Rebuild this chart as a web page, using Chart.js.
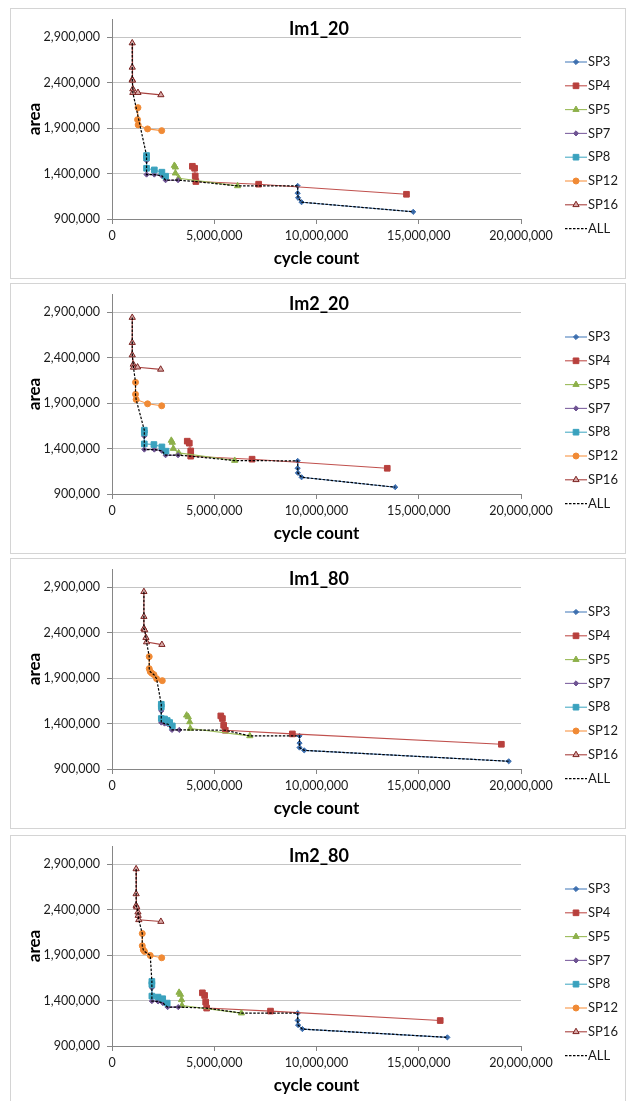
<!DOCTYPE html>
<html>
<head>
<meta charset="utf-8">
<script src="https://cdn.jsdelivr.net/npm/chart.js@4.4.0/dist/chart.umd.min.js"></script>
<style>
  body { margin: 0; background: #fff; width: 629px; height: 1101px; overflow: hidden; position: relative; }
  .panel { position: absolute; left: 10px; width: 616px; height: 271px; box-sizing: border-box; border: 1px solid #d4d4d4; background: #fff; }
  .panel canvas { display: block; }
</style>
</head>
<body>
<div class="panel" style="top:8px"><canvas id="c0" width="614" height="269"></canvas></div>
<div class="panel" style="top:283px"><canvas id="c1" width="614" height="269"></canvas></div>
<div class="panel" style="top:558px"><canvas id="c2" width="614" height="269"></canvas></div>
<div class="panel" style="top:835px"><canvas id="c3" width="614" height="269"></canvas></div>
<script>
// valeurs : [cycle count, area]
const panelTitles = ['Im1_20', 'Im2_20', 'Im1_80', 'Im2_80'];
const seriesNames = ['SP3', 'SP4', 'SP5', 'SP7', 'SP8', 'SP12', 'SP16', 'ALL'];
const xTicks = [0, 5000000, 10000000, 15000000, 20000000];
const yTicks = [900000, 1400000, 1900000, 2400000, 2900000];

// Im1_20
const im1_20_sp3 = [[9080000,1264000],[9080000,1184000],[9100000,1133000],[9270000,1085000],[14730000,979000]];
const im1_20_sp4 = [[3930000,1480000],[4040000,1458000],[4070000,1374000],[4100000,1312000],[7170000,1283000],[14400000,1172000]];
const im1_20_sp5 = [[3050000,1488000],[3100000,1470000],[3100000,1404000],[3260000,1349000],[6140000,1264000]];
const im1_20_sp7 = [[1690000,1543000],[1690000,1389000],[2070000,1389000],[2440000,1375000],[2620000,1327000],[3230000,1327000]];
const im1_20_sp8 = [[1690000,1598000],[1690000,1572000],[1690000,1458000],[2070000,1440000],[2440000,1415000],[2620000,1371000]];
const im1_20_sp12 = [[1270000,2125000],[1250000,1993000],[1280000,1935000],[1740000,1891000],[2430000,1872000]];
const im1_20_sp16 = [[990000,2836000],[990000,2568000],[990000,2433000],[1000000,2425000],[1020000,2330000],[1020000,2290000],[1270000,2290000],[2390000,2265000]];
const im1_20_all = [[990000,2836000],[990000,2568000],[990000,2433000],[1020000,2330000],[1020000,2290000],[1690000,1598000],[1690000,1543000],[1690000,1389000],[2070000,1389000],[2440000,1375000],[2620000,1327000],[3230000,1327000],[4100000,1312000],[6140000,1264000],[9080000,1264000],[9080000,1184000],[9100000,1133000],[9270000,1085000],[14730000,979000]];

// Im2_20
const im2_20_sp3 = [[9080000,1264000],[9080000,1183000],[9090000,1132000],[9270000,1084000],[13850000,975000]];
const im2_20_sp4 = [[3680000,1481000],[3780000,1459000],[3850000,1374000],[3850000,1316000],[6850000,1283000],[13460000,1183000]];
const im2_20_sp5 = [[2900000,1489000],[2950000,1467000],[3000000,1400000],[3260000,1352000],[6000000,1268000]];
const im2_20_sp7 = [[1580000,1536000],[1580000,1389000],[2070000,1389000],[2440000,1375000],[2620000,1327000],[3230000,1327000]];
const im2_20_sp8 = [[1580000,1602000],[1580000,1573000],[1580000,1451000],[2050000,1444000],[2440000,1418000],[2640000,1371000]];
const im2_20_sp12 = [[1150000,2128000],[1150000,1996000],[1180000,1940000],[1740000,1892000],[2430000,1870000]];
const im2_20_sp16 = [[990000,2841000],[990000,2565000],[990000,2429000],[1040000,2326000],[1050000,2293000],[1250000,2295000],[2380000,2271000]];
const im2_20_all = [[990000,2841000],[990000,2565000],[990000,2429000],[1040000,2326000],[1050000,2293000],[1150000,2128000],[1150000,1996000],[1180000,1940000],[1580000,1602000],[1580000,1536000],[1580000,1389000],[2070000,1389000],[2440000,1375000],[2620000,1327000],[3230000,1327000],[3850000,1316000],[6000000,1268000],[9080000,1264000],[9080000,1183000],[9090000,1132000],[9270000,1084000],[13850000,975000]];

// Im1_80
const im1_80_sp3 = [[9170000,1264000],[9170000,1185000],[9170000,1136000],[9400000,1105000],[19400000,985000]];
const im1_80_sp4 = [[5320000,1484000],[5400000,1455000],[5460000,1381000],[5540000,1326000],[8820000,1286000],[19040000,1172000]];
const im1_80_sp5 = [[3650000,1491000],[3730000,1473000],[3800000,1418000],[3830000,1345000],[6740000,1264000]];
const im1_80_sp7 = [[2410000,1539000],[2410000,1411000],[2570000,1400000],[2740000,1393000],[2930000,1330000],[3290000,1330000]];
const im1_80_sp8 = [[2410000,1612000],[2410000,1583000],[2410000,1455000],[2570000,1450000],[2700000,1433000],[2820000,1411000],[2950000,1374000]];
const im1_80_sp12 = [[1820000,2136000],[1820000,2004000],[1870000,1971000],[1950000,1953000],[2050000,1938000],[2180000,1894000],[2460000,1872000]];
const im1_80_sp16 = [[1560000,2850000],[1560000,2576000],[1560000,2444000],[1600000,2429000],[1660000,2345000],[1690000,2297000],[2440000,2268000]];
const im1_80_all = [[1560000,2850000],[1560000,2576000],[1560000,2444000],[1600000,2429000],[1660000,2345000],[1690000,2297000],[1820000,2136000],[1820000,2004000],[1870000,1971000],[1950000,1953000],[2050000,1938000],[2180000,1894000],[2410000,1612000],[2410000,1539000],[2410000,1411000],[2570000,1400000],[2740000,1393000],[2930000,1330000],[3290000,1330000],[5540000,1326000],[6740000,1264000],[9170000,1264000],[9170000,1185000],[9170000,1136000],[9400000,1105000],[19400000,985000]];

// Im2_80
const im2_80_sp3 = [[9080000,1262000],[9080000,1181000],[9100000,1130000],[9310000,1086000],[16400000,995000]];
const im2_80_sp4 = [[4420000,1485000],[4530000,1456000],[4580000,1383000],[4630000,1317000],[7750000,1284000],[16050000,1180000]];
const im2_80_sp5 = [[3280000,1489000],[3350000,1467000],[3400000,1408000],[3420000,1346000],[6330000,1262000]];
const im2_80_sp7 = [[1950000,1540000],[1950000,1394000],[2250000,1390000],[2490000,1372000],[2720000,1328000],[3240000,1328000]];
const im2_80_sp8 = [[1950000,1610000],[1950000,1577000],[1950000,1449000],[2250000,1438000],[2480000,1420000],[2700000,1372000]];
const im2_80_sp12 = [[1480000,2137000],[1480000,2002000],[1530000,1958000],[1590000,1940000],[1870000,1896000],[2430000,1870000]];
const im2_80_sp16 = [[1180000,2848000],[1180000,2573000],[1180000,2445000],[1210000,2427000],[1270000,2372000],[1280000,2335000],[1310000,2288000],[2390000,2269000]];
const im2_80_all = [[1180000,2848000],[1180000,2573000],[1180000,2445000],[1210000,2427000],[1270000,2372000],[1280000,2335000],[1310000,2288000],[1480000,2137000],[1480000,2002000],[1530000,1958000],[1590000,1940000],[1870000,1896000],[1950000,1610000],[1950000,1540000],[1950000,1394000],[2250000,1390000],[2490000,1372000],[2720000,1328000],[3240000,1328000],[4630000,1317000],[6330000,1262000],[9080000,1262000],[9080000,1181000],[9100000,1130000],[9310000,1086000],[16400000,995000]];

const panelSeries = [
    [im1_20_sp3, im1_20_sp4, im1_20_sp5, im1_20_sp7, im1_20_sp8, im1_20_sp12, im1_20_sp16, im1_20_all],
    [im2_20_sp3, im2_20_sp4, im2_20_sp5, im2_20_sp7, im2_20_sp8, im2_20_sp12, im2_20_sp16, im2_20_all],
    [im1_80_sp3, im1_80_sp4, im1_80_sp5, im1_80_sp7, im1_80_sp8, im1_80_sp12, im1_80_sp16, im1_80_all],
    [im2_80_sp3, im2_80_sp4, im2_80_sp5, im2_80_sp7, im2_80_sp8, im2_80_sp12, im2_80_sp16, im2_80_all]
];

// style des séries (couleurs Excel 2007)
const seriesStyles = [
    { line: '#4F81BD', fill: '#3C6EAE', border: '#3C6EAE', style: 'rectRot', r: 2.6 },
    { line: '#C0504D', fill: '#B8403D', border: '#B8403D', style: 'rect', r: 4 },
    { line: '#9BBB59', fill: '#8DB04A', border: '#8DB04A', style: 'triangle', r: 3.6 },
    { line: '#8064A2', fill: '#6F5493', border: '#6F5493', style: 'rectRot', r: 2.6 },
    { line: '#4BACC6', fill: '#3AA2BE', border: '#3AA2BE', style: 'rect', r: 4 },
    { line: '#F79646', fill: '#F08A35', border: '#F08A35', style: 'circle', r: 3 },
    { line: '#A8423F', fill: '#D9A9A8', border: '#7B2321', style: 'triangle', r: 3.6 }
];

const FONT = 'Lato, "Open Sans", sans-serif';
Chart.defaults.font.family = FONT;
Chart.defaults.color = '#1a1a1a';

function withCommas(v) {
    return String(v).replace(/\B(?=(\d{3})+(?!\d))/g, ',');
}

// titre superposé au graphique, centré sur le cadre
const overlayTitle = {
    id: 'overlayTitle',
    afterDraw(chart, args, opts) {
        const ctx = chart.ctx;
        ctx.save();
        ctx.font = 'bold 18px ' + FONT;
        ctx.fillStyle = '#000';
        ctx.textAlign = 'center';
        ctx.textBaseline = 'middle';
        ctx.fillText(opts.text, chart.width / 2 + 1, chart.chartArea.top + 10);
        ctx.restore();
    }
};

// légende à droite : trait + marqueur + libellé
const sideLegend = {
    id: 'sideLegend',
    afterDraw(chart) {
        const ctx = chart.ctx;
        const area = chart.chartArea;
        const x0 = area.right + 44;
        chart.data.datasets.forEach((ds, i) => {
            const y = area.top + 43 + i * 23.8;
            ctx.save();
            ctx.strokeStyle = ds.borderColor;
            ctx.lineWidth = ds.borderWidth;
            ctx.setLineDash(ds.borderDash || []);
            ctx.beginPath();
            ctx.moveTo(x0, y);
            ctx.lineTo(x0 + 22, y);
            ctx.stroke();
            ctx.setLineDash([]);
            if (ds.pointRadius > 0) {
                ctx.fillStyle = ds.pointBackgroundColor;
                ctx.strokeStyle = ds.pointBorderColor;
                ctx.lineWidth = ds.pointBorderWidth;
                Chart.helpers.drawPoint(ctx, {
                    pointStyle: ds.pointStyle, radius: ds.pointRadius,
                    borderWidth: ds.pointBorderWidth, rotation: 0
                }, x0 + 11, y);
            }
            ctx.fillStyle = '#1a1a1a';
            ctx.font = '13px ' + FONT;
            ctx.textAlign = 'left';
            ctx.textBaseline = 'middle';
            ctx.fillText(ds.label, x0 + 23, y);
            ctx.restore();
        });
    }
};

function buildDatasets(series) {
    return series.map((pts, i) => {
        const data = pts.map(p => ({ x: p[0], y: p[1] }));
        if (seriesNames[i] === 'ALL') {
            return {
                label: 'ALL', data, showLine: true, order: 0,
                borderColor: '#000', borderWidth: 1.2, borderDash: [2.5, 1.5],
                pointRadius: 0
            };
        }
        const s = seriesStyles[i];
        return {
            label: seriesNames[i], data, showLine: true, order: series.length - 1 - i,
            borderColor: s.line, borderWidth: 1.1,
            pointStyle: s.style, pointRadius: s.r,
            pointBackgroundColor: s.fill, pointBorderColor: s.border, pointBorderWidth: 1
        };
    });
}

function renderPanel(idx) {
    const ctx = document.getElementById('c' + idx);
    return new Chart(ctx, {
        type: 'scatter',
        data: { datasets: buildDatasets(panelSeries[idx]) },
        options: {
            responsive: false,
            animation: false,
            layout: { padding: { left: 0, right: 104, top: 10, bottom: 0 } },
            plugins: {
                legend: { display: false },
                tooltip: { enabled: false },
                overlayTitle: { text: panelTitles[idx] }
            },
            scales: {
                x: {
                    type: 'linear', min: 0, max: 20000000,
                    afterBuildTicks: s => { s.ticks = xTicks.map(v => ({ value: v })); },
                    afterFit: s => { s.height = 59; },
                    grid: { drawOnChartArea: false, drawTicks: true, tickLength: 5, color: '#868686' },
                    border: { color: '#868686' },
                    ticks: { font: { size: 12.5 }, padding: 4, maxRotation: 0, callback: v => withCommas(v) },
                    title: { display: true, text: 'cycle count', font: { size: 17, weight: 'bold' }, color: '#000', padding: { top: 0, bottom: 9.5 } }
                },
                y: {
                    type: 'linear', min: 900000, max: 3100000,
                    afterBuildTicks: s => { s.ticks = yTicks.map(v => ({ value: v })); },
                    // largeur fixe et pas de marge auto en haut/bas
                    afterFit: s => { s.width = 101; s.paddingTop = 0; s.paddingBottom = 0; },
                    grid: { color: '#c4c4c4', tickColor: '#868686', tickLength: 5 },
                    border: { color: '#868686' },
                    ticks: { font: { size: 12.5 }, padding: 7, callback: v => withCommas(v) },
                    title: { display: true, text: 'area', font: { size: 17, weight: 'bold' }, color: '#000', padding: { top: 13, bottom: 0 } }
                }
            }
        },
        plugins: [overlayTitle, sideLegend]
    });
}

document.addEventListener('DOMContentLoaded', function() {
    window.panelCharts = [0, 1, 2, 3].map(renderPanel);
});
</script>
</body>
</html>
